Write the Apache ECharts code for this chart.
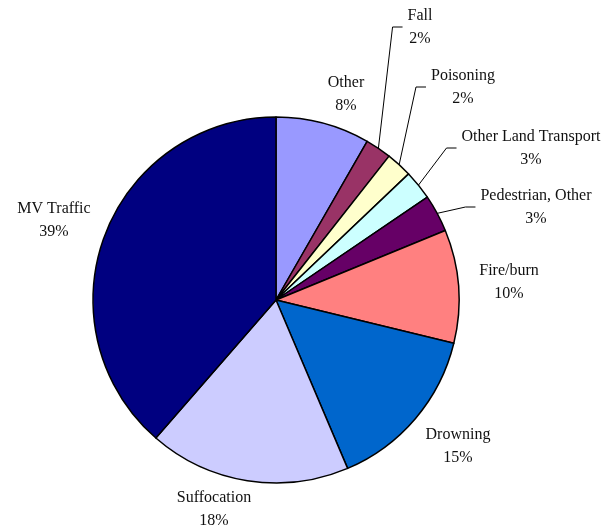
<!DOCTYPE html>
<html>
<head>
<meta charset="utf-8">
<script src="https://cdn.jsdelivr.net/npm/echarts@6/dist/echarts.min.js"></script>
<style>
  html, body { margin: 0; padding: 0; background: #fff; }
  #chart { width: 616px; height: 529px; }
</style>
</head>
<body>
<div id="chart"></div>
<script>
// slices clockwise from 12 o'clock
const categories = ['Other', 'Fall', 'Poisoning', 'Other Land Transport', 'Pedestrian, Other',
  'Fire/burn', 'Drowning', 'Suffocation', 'MV Traffic']
const shares = [8.3, 2.3, 2.3, 2.6, 3.3, 10.0, 14.8, 17.8, 38.6]
const colors = ['#9999FF', '#993366', '#FFFFCC', '#CCFFFF', '#660066',
  '#FF8080', '#0066CC', '#CCCCFF', '#000080']

// slices whose label hangs on a leader line
const withLeader = ['Fall', 'Poisoning', 'Other Land Transport', 'Pedestrian, Other']
// label block centres
const labelPos = [[346, 94], [420, 27], [463, 87], [531, 148], [536, 207],
  [509, 282], [458, 446], [214, 509], [54, 220]]

const chart = echarts.init(document.getElementById('chart'))

const option = {
  animation: false,
  series: [
    {
      type: 'pie',
      center: [276, 300],
      radius: 183,
      startAngle: 90,
      clockwise: true,
      avoidLabelOverlap: false,
      percentPrecision: 0,
      itemStyle: { borderColor: '#000', borderWidth: 1.5 },
      label: {
        show: true,
        position: 'outside',
        formatter: '{b}\n{d}%',
        fontFamily: 'Liberation Serif',
        fontSize: 16,
        lineHeight: 23,
        color: '#111',
        align: 'center'
      },
      labelLine: { show: false },
      emphasis: { disabled: true },
      labelLayout: function (p) {
        const pos = labelPos[p.dataIndex]
        const res = { x: pos[0], y: pos[1], align: 'center', verticalAlign: 'middle' }
        if (p.labelLinePoints) {
          const left = pos[0] - p.labelRect.width / 2
          res.labelLinePoints = [
            p.labelLinePoints[0],
            [left - 15, pos[1]],
            [left - 5, pos[1]]
          ]
        }
        return res
      },
      data: categories.map((name, i) => ({
        name: name,
        value: shares[i],
        itemStyle: { color: colors[i] },
        labelLine: withLeader.includes(name)
          ? { show: true, lineStyle: { color: '#000', width: 1 } }
          : { show: false }
      }))
    }
  ]
}

option && chart.setOption(option)
</script>
</body>
</html>
